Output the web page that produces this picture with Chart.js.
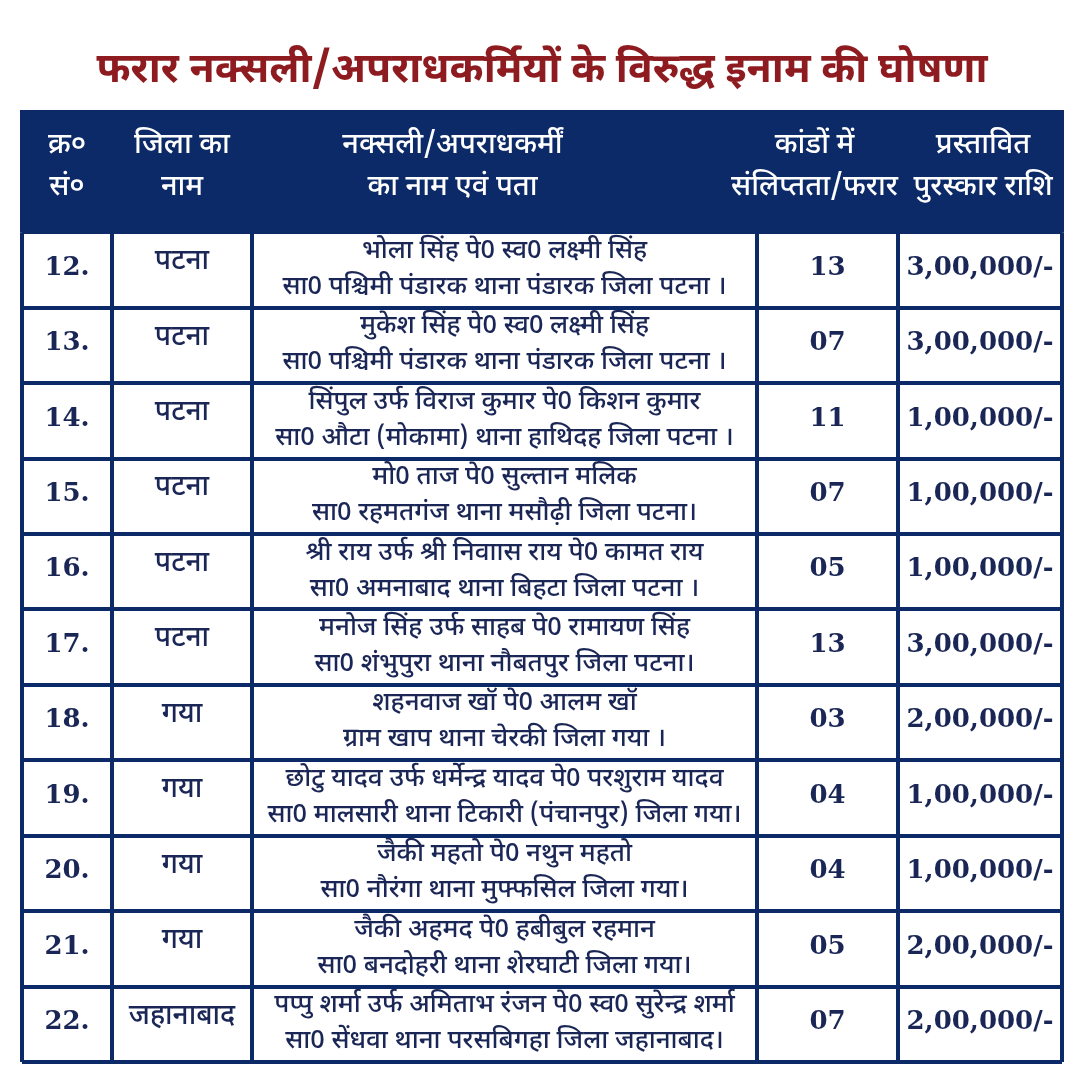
<!DOCTYPE html>
<html>
  <head>
    <title>Inaam ghoshna</title>
    <script src="https://cdn.jsdelivr.net/npm/chart.js@4/dist/chart.umd.min.js"></script>
    <style>
      html, body { margin: 0; padding: 0; background: #fff; }
      #wrap { width: 1080px; height: 1080px; }
    </style>
  </head>
  <body>
    <div id="wrap"><canvas id="canvas"></canvas></div>
    <script>
      // table data
      var serials = ['12.', '13.', '14.', '15.', '16.', '17.', '18.', '19.', '20.', '21.', '22.'];
      var districts = ['पटना', 'पटना', 'पटना', 'पटना', 'पटना', 'पटना', 'गया', 'गया', 'गया', 'गया', 'जहानाबाद'];
      var names = [
        'भोला सिंह पे0 स्व0 लक्ष्मी सिंह',
        'मुकेश सिंह पे0 स्व0 लक्ष्मी सिंह',
        'सिंपुल उर्फ विराज कुमार पे0 किशन कुमार',
        'मो0 ताज पे0 सुल्तान मलिक',
        'श्री राय उर्फ श्री निवाास राय पे0 कामत राय',
        'मनोज सिंह उर्फ साहब पे0 रामायण सिंह',
        'शहनवाज खॉ पे0 आलम खॉ',
        'छोटु यादव उर्फ धर्मेन्द्र यादव पे0 परशुराम यादव',
        'जैकी महतो पे0 नथुन महतो',
        'जैकी अहमद पे0 हबीबुल रहमान',
        'पप्पु शर्मा उर्फ अमिताभ रंजन पे0 स्व0 सुरेन्द्र शर्मा'
      ];
      var addresses = [
        'सा0 पश्चिमी पंडारक थाना पंडारक जिला पटना ।',
        'सा0 पश्चिमी पंडारक थाना पंडारक जिला पटना ।',
        'सा0 औटा (मोकामा) थाना हाथिदह जिला पटना ।',
        'सा0 रहमतगंज थाना मसौढ़ी जिला पटना।',
        'सा0 अमनाबाद थाना बिहटा जिला पटना ।',
        'सा0 शंभुपुरा थाना नौबतपुर जिला पटना।',
        'ग्राम खाप थाना चेरकी जिला गया ।',
        'सा0 मालसारी थाना टिकारी (पंचानपुर) जिला गया।',
        'सा0 नौरंगा थाना मुफ्फसिल जिला गया।',
        'सा0 बनदोहरी थाना शेरघाटी जिला गया।',
        'सा0 सेंधवा थाना परसबिगहा जिला जहानाबाद।'
      ];
      var cases = [13, 7, 11, 7, 5, 13, 3, 4, 4, 5, 7];
      var rewards = [300000, 300000, 100000, 100000, 100000, 300000, 200000, 100000, 100000, 200000, 200000];
      var headers = [
        ['क्र०', 'सं०'],
        ['जिला का', 'नाम'],
        ['नक्सली/अपराधकर्मीं', 'का नाम एवं पता'],
        ['कांडों में', 'संलिप्तता/फरार'],
        ['प्रस्तावित', 'पुरस्कार राशि']
      ];
      var titleText = 'फरार नक्सली/अपराधकर्मियों के विरुद्ध इनाम की घोषणा';

      // layout (x scale units = pixels across the table)
      var colEdges = [0, 90, 230, 735, 876, 1040];
      var headerShift = [0, 0, -52, -13, 3];
      var NAVY = '#0d2a68';
      var INK = '#1a2656';
      var DEV = '"Noto Sans Devanagari", "Noto Sans", sans-serif';
      var SERIF = '"DejaVu Serif", "Liberation Serif", serif';

      function rupees(n) {
        var s = String(n);
        var last3 = s.slice(-3);
        var rest = s.slice(0, -3);
        if (rest) rest = rest.replace(/\B(?=(\d{2})+(?!\d))/g, ',') + ',';
        return rest + last3 + '/-';
      }

      var tablePlugin = {
        id: 'tableText',
        beforeDraw: function(chart) {
          var ctx = chart.ctx;
          var x = chart.scales.x;
          var area = chart.chartArea;
          var headTop = 110;
          ctx.save();
          ctx.fillStyle = NAVY;
          ctx.fillRect(x.getPixelForValue(0) - 2, headTop, x.getPixelForValue(1040) - x.getPixelForValue(0) + 4, area.top - headTop);
          ctx.fillStyle = '#fff';
          ctx.textAlign = 'center';
          ctx.textBaseline = 'middle';
          ctx.font = '500 29px ' + DEV;
          headers.forEach(function(h, i) {
            var cx = (x.getPixelForValue(colEdges[i]) + x.getPixelForValue(colEdges[i + 1])) / 2 + headerShift[i];
            ctx.fillText(h[0], cx, headTop + 38);
            ctx.fillText(h[1], cx, headTop + 80);
          });
          ctx.restore();
        },
        afterDraw: function(chart) {
          var ctx = chart.ctx;
          var x = chart.scales.x;
          var y = chart.scales.y;
          function mid(c) {
            return (x.getPixelForValue(colEdges[c]) + x.getPixelForValue(colEdges[c + 1])) / 2;
          }
          ctx.save();
          ctx.fillStyle = INK;
          ctx.textAlign = 'center';
          ctx.textBaseline = 'middle';
          serials.forEach(function(s, i) {
            var cy = y.getPixelForValue(i);
            ctx.font = 'bold 26px ' + SERIF;
            ctx.fillText(s, mid(0), cy - 2);
            ctx.font = '500 28px ' + DEV;
            ctx.fillText(districts[i], mid(1), cy - 6);
            ctx.font = '500 26px ' + DEV;
            ctx.fillText(names[i], mid(2), cy - 17);
            ctx.fillText(addresses[i], mid(2), cy + 19);
            ctx.font = 'bold 26px ' + SERIF;
            ctx.fillText(String(cases[i]).padStart(2, '0'), mid(3), cy - 2);
            ctx.fillText(rupees(rewards[i]), mid(4), cy - 2);
          });
          ctx.restore();
        }
      };

      var ctx = document.getElementById('canvas').getContext('2d');
      var chart = new Chart(ctx, {
        type: 'bar',
        data: {
          labels: serials,
          datasets: [{ label: 'cases', data: [], backgroundColor: 'rgba(0,0,0,0)' }]
        },
        options: {
          indexAxis: 'y',
          responsive: true,
          maintainAspectRatio: false,
          animation: false,
          layout: { padding: { left: 22, right: 18, top: 0, bottom: 18 } },
          plugins: {
            legend: { display: false },
            tooltip: { enabled: false },
            title: {
              display: true,
              text: titleText,
              color: '#8e1b1f',
              font: { family: DEV, size: 41, weight: 'bold', lineHeight: 1.2 },
              padding: { top: 50, bottom: 133 }
            }
          },
          scales: {
            x: {
              type: 'linear',
              min: 0,
              max: 1040,
              afterBuildTicks: function(axis) {
                axis.ticks = colEdges.map(function(v) { return { value: v }; });
              },
              ticks: { display: false },
              grid: { color: NAVY, lineWidth: 4, drawTicks: false },
              border: { display: false }
            },
            y: {
              type: 'category',
              offset: true,
              ticks: { display: false },
              grid: { offset: true, color: NAVY, lineWidth: 4, drawTicks: false },
              border: { display: false }
            }
          }
        },
        plugins: [tablePlugin]
      });
    </script>
  </body>
</html>
